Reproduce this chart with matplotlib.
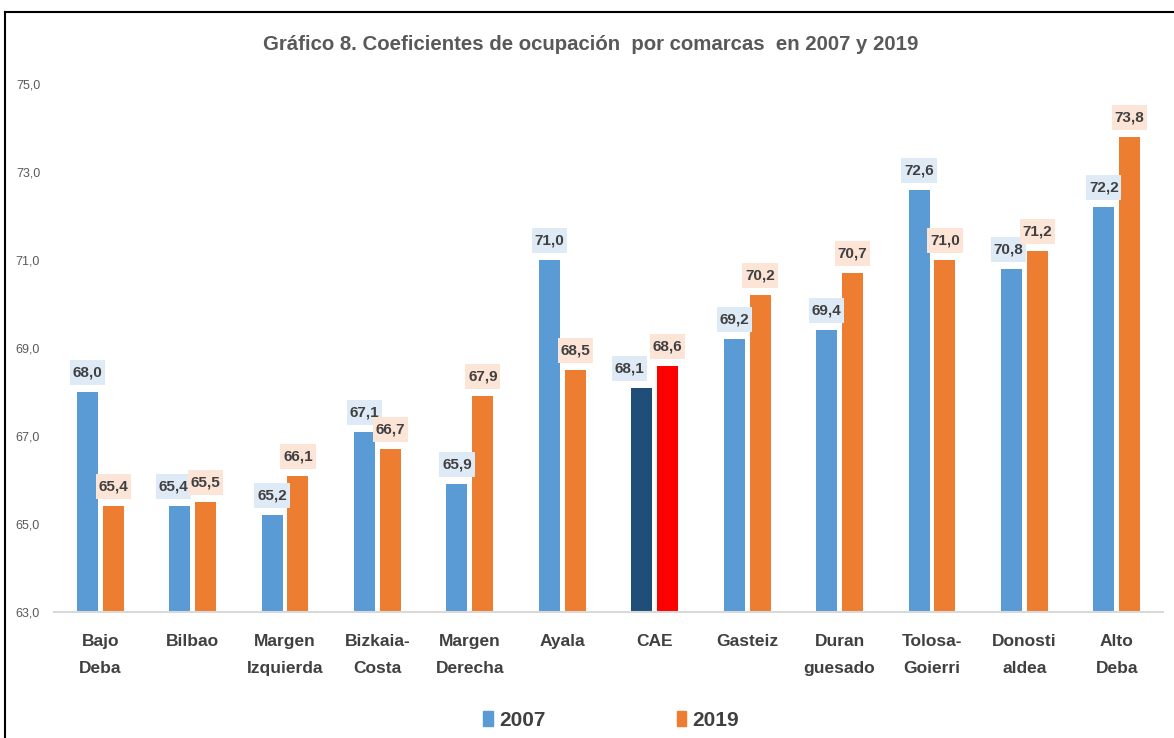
import numpy as np
import matplotlib
matplotlib.use("Agg")
import matplotlib.pyplot as plt
from matplotlib.patches import Patch
from matplotlib.lines import Line2D
from matplotlib.path import Path
from matplotlib.ticker import FuncFormatter

categories = ["Bajo\nDeba", "Bilbao", "Margen\nIzquierda", "Bizkaia-\nCosta", "Margen\nDerecha",
              "Ayala", "CAE", "Gasteiz", "Duran\nguesado", "Tolosa-\nGoierri", "Donosti\naldea", "Alto\nDeba"]
values_2007 = [68.0, 65.4, 65.2, 67.1, 65.9, 71.0, 68.1, 69.2, 69.4, 72.6, 70.8, 72.2]
values_2019 = [65.4, 65.5, 66.1, 66.7, 67.9, 68.5, 68.6, 70.2, 70.7, 71.0, 71.2, 73.8]
series_names = ["2007", "2019"]
title = "Gráfico 8. Coeficientes de ocupación  por comarcas  en 2007 y 2019"
highlight = "CAE"

plt.rcParams["font.family"] = ["Liberation Sans", "DejaVu Sans"]

BLUE = "#5b9bd5"
ORANGE = "#ed7d31"
DARKBLUE = "#1f4e79"
RED = "#ff0000"

W, H = 1174, 738
fig = plt.figure(figsize=(W / 100, H / 100), dpi=100)
ax = fig.add_axes([54 / W, (H - 612) / H, 1109 / W, 528 / H])

x = np.arange(len(categories))
bw = 0.227
off = 0.14
c07 = [DARKBLUE if c == highlight else BLUE for c in categories]
c19 = [RED if c == highlight else ORANGE for c in categories]
ax.bar(x - off, np.array(values_2007) - 63, bw, bottom=63, color=c07, zorder=2)
ax.bar(x + off, np.array(values_2019) - 63, bw, bottom=63, color=c19, zorder=2)

ax.set_xlim(-0.5, len(categories) - 0.5)
ax.set_ylim(63, 75)
ax.set_yticks(np.arange(63, 75.1, 2))
ax.yaxis.set_major_formatter(FuncFormatter(lambda v, p: f"{v:.1f}".replace(".", ",")))
ax.set_xticks(x)
ax.set_xticklabels(categories, fontsize=12.5, fontweight="bold", color="#404040", linespacing=1.95)
ax.tick_params(axis="y", length=0, labelsize=9, labelcolor="#595959", pad=10)
ax.tick_params(axis="x", length=0, pad=16)
for s in ["top", "right", "left"]:
    ax.spines[s].set_visible(False)
ax.spines["bottom"].set_color("#d9d9d9")
ax.spines["bottom"].set_linewidth(1.5)


def label_box(x0, y0, width, height, mutation_size):
    px = 0.18 * mutation_size
    py = 0.36 * mutation_size
    x0, y0 = x0 - px, y0 - py
    x1, y1 = x0 + width + 2 * px, y0 + height + 2 * py
    return Path([(x0, y0), (x1, y0), (x1, y1), (x0, y1), (x0, y0)], closed=True)


label_dx = {"CAE": -12, "Bilbao": -6, "Donosti\naldea": -3}
for i, (v1, v2) in enumerate(zip(values_2007, values_2019)):
    dx = label_dx.get(categories[i], 0) * 0.72
    ax.annotate(f"{v1:.1f}".replace(".", ","), (x[i] - off, v1), xytext=(dx, 14), textcoords="offset points",
                ha="center", va="center", fontsize=11, fontweight="bold", color="#404040",
                bbox=dict(boxstyle=label_box, fc="#deeaf6", ec="none"), zorder=3)
    ax.annotate(f"{v2:.1f}".replace(".", ","), (x[i] + off, v2), xytext=(0, 14), textcoords="offset points",
                ha="center", va="center", fontsize=11, fontweight="bold", color="#404040",
                bbox=dict(boxstyle=label_box, fc="#fce4d6", ec="none"), zorder=3)

fig.text(591 / W, 1 - 45 / H, title, ha="center", va="center", fontsize=14.7, fontweight="bold", color="#595959")

handles = [Patch(color=BLUE), Patch(color=ORANGE)]
leg = fig.legend(handles, series_names, loc="center", bbox_to_anchor=(611 / W, 18 / H), ncol=2, frameon=False,
                 prop=dict(size=15, weight="bold"), handlelength=0.45, handleheight=0.75, handletextpad=0.3,
                 columnspacing=6.3)
for t in leg.get_texts():
    t.set_color("#404040")

fig.add_artist(Line2D([5 / W, 1], [1 - 12 / H, 1 - 12 / H], color="black", lw=1.5, transform=fig.transFigure))
fig.add_artist(Line2D([5 / W, 5 / W], [0, 1 - 12 / H], color="black", lw=1.5, transform=fig.transFigure))

fig.savefig("out.png", dpi=100, facecolor="white")
